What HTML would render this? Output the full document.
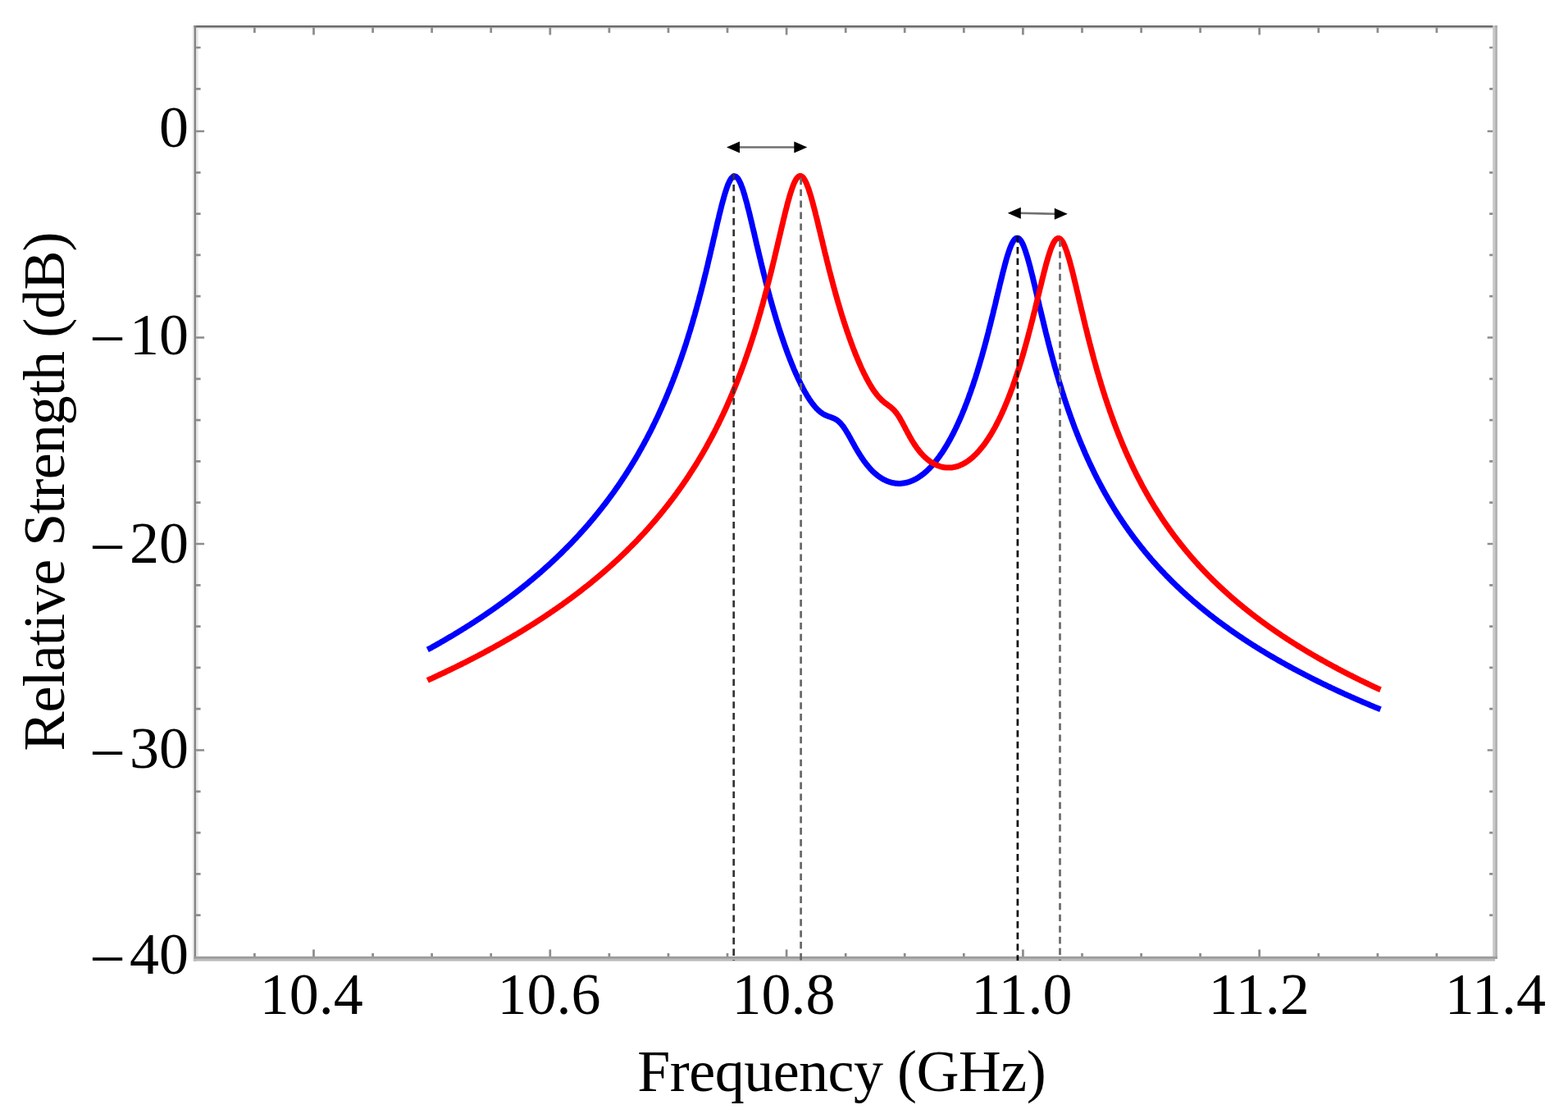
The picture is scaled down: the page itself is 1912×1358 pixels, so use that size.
<!DOCTYPE html>
<html><head><meta charset="utf-8"><style>html,body{margin:0;padding:0;background:#fff;}svg{display:block;}</style></head>
<body>
<svg width="1912" height="1358" viewBox="0 0 1912 1358">
<rect width="1912" height="1358" fill="#fff"/>
<g shape-rendering="auto">
<rect x="234.0" y="31.0" width="2.5" height="1141" fill="#f3f3f3"/>
<rect x="239.1" y="33.6" width="2.8" height="1132.3" fill="#e9e9e9"/>
<rect x="239.1" y="33.6" width="1581.1" height="2.2" fill="#ebebeb"/>
<rect x="236.5" y="31.0" width="1589.4" height="2.6" fill="#6c6c6c"/>
<rect x="236.5" y="31.0" width="2.6" height="1140.7" fill="#868686"/>
<rect x="1820.2" y="31.0" width="2.9" height="1137.9" fill="#c8c8c8"/>
<rect x="1823.1" y="31.0" width="2.8" height="1137.9" fill="#b0b0b0"/>
<rect x="236.5" y="1165.9" width="1589.4" height="3.0" fill="#9c9c9c"/>
<rect x="236.5" y="1168.9" width="1586.6" height="2.8" fill="#bcbcbc"/>
</g>
<path d="M239.1,1115.7h5.5M1820.2,1115.7h-4 M239.1,1065.4h5.5M1820.2,1065.4h-4 M239.1,1015.1h5.5M1820.2,1015.1h-4 M239.1,964.8h5.5M1820.2,964.8h-4 M239.1,914.5h10M1820.2,914.5h-6.5 M239.1,864.2h5.5M1820.2,864.2h-4 M239.1,813.9h5.5M1820.2,813.9h-4 M239.1,763.6h5.5M1820.2,763.6h-4 M239.1,713.3h5.5M1820.2,713.3h-4 M239.1,663.0h10M1820.2,663.0h-6.5 M239.1,612.7h5.5M1820.2,612.7h-4 M239.1,562.4h5.5M1820.2,562.4h-4 M239.1,512.1h5.5M1820.2,512.1h-4 M239.1,461.8h5.5M1820.2,461.8h-4 M239.1,411.5h10M1820.2,411.5h-6.5 M239.1,361.2h5.5M1820.2,361.2h-4 M239.1,310.9h5.5M1820.2,310.9h-4 M239.1,260.6h5.5M1820.2,260.6h-4 M239.1,210.3h5.5M1820.2,210.3h-4 M239.1,160.0h10M1820.2,160.0h-6.5 M239.1,108.3h5.5M1820.2,108.3h-4 M239.1,58.0h5.5M1820.2,58.0h-4 M310.4,1165.9v-3.8M310.4,33.6v6.3 M382.5,1165.9v-8.3M382.5,33.6v8.8 M454.6,1165.9v-3.8M454.6,33.6v6.3 M526.6,1165.9v-3.8M526.6,33.6v6.3 M598.7,1165.9v-3.8M598.7,33.6v6.3 M670.8,1165.9v-8.3M670.8,33.6v8.8 M742.9,1165.9v-3.8M742.9,33.6v6.3 M815.0,1165.9v-3.8M815.0,33.6v6.3 M887.0,1165.9v-3.8M887.0,33.6v6.3 M959.1,1165.9v-8.3M959.1,33.6v8.8 M1031.2,1165.9v-3.8M1031.2,33.6v6.3 M1103.2,1165.9v-3.8M1103.2,33.6v6.3 M1175.3,1165.9v-3.8M1175.3,33.6v6.3 M1247.4,1165.9v-8.3M1247.4,33.6v8.8 M1319.5,1165.9v-3.8M1319.5,33.6v6.3 M1391.6,1165.9v-3.8M1391.6,33.6v6.3 M1463.6,1165.9v-3.8M1463.6,33.6v6.3 M1535.7,1165.9v-8.3M1535.7,33.6v8.8 M1607.8,1165.9v-3.8M1607.8,33.6v6.3 M1679.9,1165.9v-3.8M1679.9,33.6v6.3 M1751.9,1165.9v-3.8M1751.9,33.6v6.3" fill="none" stroke="#8c8c8c" stroke-width="2.7"/>
<polyline points="524.4,790.3 525.4,789.8 526.4,789.3 527.3,788.7 528.3,788.2 529.3,787.6 530.2,787.1 531.2,786.6 532.1,786.0 533.1,785.5 534.1,784.9 535.0,784.4 536.0,783.8 537.0,783.3 537.9,782.7 538.9,782.2 539.9,781.6 540.8,781.1 541.8,780.5 542.8,779.9 543.7,779.4 544.7,778.8 545.6,778.2 546.6,777.7 547.6,777.1 548.5,776.5 549.5,776.0 550.5,775.4 551.4,774.8 552.4,774.3 553.4,773.7 554.3,773.1 555.3,772.5 556.2,771.9 557.2,771.3 558.2,770.8 559.1,770.2 560.1,769.6 561.1,769.0 562.0,768.4 563.0,767.8 564.0,767.2 564.9,766.6 565.9,766.0 566.9,765.4 567.8,764.8 568.8,764.2 569.7,763.6 570.7,763.0 571.7,762.4 572.6,761.8 573.6,761.2 574.6,760.5 575.5,759.9 576.5,759.3 577.5,758.7 578.4,758.1 579.4,757.4 580.3,756.8 581.3,756.2 582.3,755.5 583.2,754.9 584.2,754.3 585.2,753.6 586.1,753.0 587.1,752.4 588.1,751.7 589.0,751.1 590.0,750.4 590.9,749.8 591.9,749.1 592.9,748.5 593.8,747.8 594.8,747.1 595.8,746.5 596.7,745.8 597.7,745.2 598.7,744.5 599.6,743.8 600.6,743.2 601.6,742.5 602.5,741.8 603.5,741.1 604.4,740.4 605.4,739.8 606.4,739.1 607.3,738.4 608.3,737.7 609.3,737.0 610.2,736.3 611.2,735.6 612.2,734.9 613.1,734.2 614.1,733.5 615.0,732.8 616.0,732.1 617.0,731.4 617.9,730.7 618.9,730.0 619.9,729.2 620.8,728.5 621.8,727.8 622.8,727.1 623.7,726.3 624.7,725.6 625.7,724.9 626.6,724.1 627.6,723.4 628.5,722.7 629.5,721.9 630.5,721.2 631.4,720.4 632.4,719.7 633.4,718.9 634.3,718.1 635.3,717.4 636.3,716.6 637.2,715.9 638.2,715.1 639.1,714.3 640.1,713.5 641.1,712.8 642.0,712.0 643.0,711.2 644.0,710.4 644.9,709.6 645.9,708.8 646.9,708.0 647.8,707.2 648.8,706.4 649.7,705.6 650.7,704.8 651.7,704.0 652.6,703.2 653.6,702.3 654.6,701.5 655.5,700.7 656.5,699.9 657.5,699.0 658.4,698.2 659.4,697.4 660.4,696.5 661.3,695.7 662.3,694.8 663.2,694.0 664.2,693.1 665.2,692.2 666.1,691.4 667.1,690.5 668.1,689.6 669.0,688.8 670.0,687.9 671.0,687.0 671.9,686.1 672.9,685.2 673.8,684.3 674.8,683.4 675.8,682.5 676.7,681.6 677.7,680.7 678.7,679.8 679.6,678.9 680.6,677.9 681.6,677.0 682.5,676.1 683.5,675.2 684.5,674.2 685.4,673.3 686.4,672.3 687.3,671.4 688.3,670.4 689.3,669.4 690.2,668.5 691.2,667.5 692.2,666.5 693.1,665.5 694.1,664.6 695.1,663.6 696.0,662.6 697.0,661.6 697.9,660.6 698.9,659.6 699.9,658.5 700.8,657.5 701.8,656.5 702.8,655.5 703.7,654.4 704.7,653.4 705.7,652.4 706.6,651.3 707.6,650.2 708.5,649.2 709.5,648.1 710.5,647.0 711.4,646.0 712.4,644.9 713.4,643.8 714.3,642.7 715.3,641.6 716.3,640.5 717.2,639.4 718.2,638.3 719.2,637.1 720.1,636.0 721.1,634.9 722.0,633.7 723.0,632.6 724.0,631.4 724.9,630.3 725.9,629.1 726.9,627.9 727.8,626.7 728.8,625.5 729.8,624.3 730.7,623.1 731.7,621.9 732.6,620.7 733.6,619.5 734.6,618.3 735.5,617.0 736.5,615.8 737.5,614.5 738.4,613.3 739.4,612.0 740.4,610.7 741.3,609.4 742.3,608.1 743.3,606.8 744.2,605.5 745.2,604.2 746.1,602.9 747.1,601.6 748.1,600.2 749.0,598.9 750.0,597.5 751.0,596.1 751.9,594.8 752.9,593.4 753.9,592.0 754.8,590.6 755.8,589.2 756.7,587.8 757.7,586.3 758.7,584.9 759.6,583.4 760.6,582.0 761.6,580.5 762.5,579.0 763.5,577.5 764.5,576.0 765.4,574.5 766.4,573.0 767.3,571.4 768.3,569.9 769.3,568.3 770.2,566.8 771.2,565.2 772.2,563.6 773.1,562.0 774.1,560.4 775.1,558.8 776.0,557.1 777.0,555.5 778.0,553.8 778.9,552.1 779.9,550.4 780.8,548.7 781.8,547.0 782.8,545.3 783.7,543.5 784.7,541.8 785.7,540.0 786.6,538.2 787.6,536.4 788.6,534.6 789.5,532.8 790.5,530.9 791.4,529.0 792.4,527.2 793.4,525.3 794.3,523.4 795.3,521.4 796.3,519.5 797.2,517.5 798.2,515.5 799.2,513.5 800.1,511.5 801.1,509.5 802.1,507.4 803.0,505.4 804.0,503.3 804.9,501.2 805.9,499.0 806.9,496.9 807.8,494.7 808.8,492.5 809.8,490.3 810.7,488.1 811.7,485.8 812.7,483.5 813.6,481.2 814.6,478.9 815.5,476.6 816.5,474.2 817.5,471.8 818.4,469.4 819.4,466.9 820.4,464.5 821.3,462.0 822.3,459.4 823.3,456.9 824.2,454.3 825.2,451.7 826.1,449.1 827.1,446.4 828.1,443.7 829.0,441.0 830.0,438.2 831.0,435.5 831.9,432.6 832.9,429.8 833.9,426.9 834.8,424.0 835.8,421.1 836.8,418.1 837.7,415.1 838.7,412.0 839.6,408.9 840.6,405.8 841.6,402.7 842.5,399.5 843.5,396.2 844.5,393.0 845.4,389.6 846.4,386.3 847.4,382.9 848.3,379.5 849.3,376.0 850.2,372.5 851.2,369.0 852.2,365.4 853.1,361.7 854.1,358.1 855.1,354.4 856.0,350.6 857.0,346.8 858.0,343.0 858.9,339.1 859.9,335.2 860.9,331.3 861.8,327.3 862.8,323.3 863.7,319.3 864.7,315.2 865.7,311.1 866.6,307.0 867.6,302.8 868.6,298.7 869.5,294.5 870.5,290.3 871.5,286.2 872.4,282.0 873.4,277.9 874.3,273.7 875.3,269.6 876.3,265.6 877.2,261.6 878.2,257.6 879.2,253.7 880.1,249.9 881.1,246.3 882.1,242.7 883.0,239.3 884.0,236.0 885.0,232.9 885.9,230.0 886.9,227.3 887.8,224.8 888.8,222.6 889.8,220.6 890.7,218.9 891.7,217.4 892.7,216.3 893.6,215.5 894.6,215.0 895.6,214.8 896.5,214.9 897.5,215.3 898.4,216.1 899.4,217.1 900.4,218.5 901.3,220.1 902.3,222.1 903.3,224.2 904.2,226.7 905.2,229.3 906.2,232.1 907.1,235.2 908.1,238.4 909.0,241.8 910.0,245.3 911.0,248.9 911.9,252.6 912.9,256.5 913.9,260.4 914.8,264.3 915.8,268.3 916.8,272.4 917.7,276.5 918.7,280.6 919.7,284.7 920.6,288.8 921.6,293.0 922.5,297.1 923.5,301.2 924.5,305.3 925.4,309.3 926.4,313.4 927.4,317.4 928.3,321.4 929.3,325.3 930.3,329.3 931.2,333.1 932.2,337.0 933.1,340.8 934.1,344.5 935.1,348.3 936.0,351.9 937.0,355.6 938.0,359.2 938.9,362.7 939.9,366.2 940.9,369.7 941.8,373.1 942.8,376.4 943.8,379.8 944.7,383.0 945.7,386.3 946.6,389.5 947.6,392.6 948.6,395.7 949.5,398.8 950.5,401.8 951.5,404.8 952.4,407.7 953.4,410.6 954.4,413.5 955.3,416.3 956.3,419.1 957.2,421.8 958.2,424.5 959.2,427.2 960.1,429.8 961.1,432.4 962.1,434.9 963.0,437.4 964.0,439.9 965.0,442.3 965.9,444.7 966.9,447.0 967.8,449.3 968.8,451.6 969.8,453.8 970.7,456.0 971.7,458.1 972.7,460.2 973.6,462.3 974.6,464.3 975.6,466.3 976.5,468.3 977.5,470.2 978.5,472.1 979.4,473.9 980.4,475.7 981.3,477.4 982.3,479.1 983.3,480.8 984.2,482.4 985.2,484.0 986.2,485.5 987.1,487.0 988.1,488.4 989.1,489.8 990.0,491.1 991.0,492.4 991.9,493.6 992.9,494.8 993.9,496.0 994.8,497.0 995.8,498.1 996.8,499.0 997.7,500.0 998.7,500.8 999.7,501.7 1000.6,502.4 1001.6,503.1 1002.6,503.8 1003.5,504.4 1004.5,505.0 1005.4,505.5 1006.4,506.0 1007.4,506.4 1008.3,506.8 1009.3,507.2 1010.3,507.6 1011.2,507.9 1012.2,508.2 1013.2,508.6 1014.1,508.9 1015.1,509.3 1016.0,509.7 1017.0,510.1 1018.0,510.6 1018.9,511.1 1019.9,511.7 1020.9,512.3 1021.8,513.0 1022.8,513.9 1023.8,514.8 1024.7,515.7 1025.7,516.8 1026.6,518.0 1027.6,519.2 1028.6,520.5 1029.5,521.9 1030.5,523.4 1031.5,524.9 1032.4,526.5 1033.4,528.1 1034.4,529.7 1035.3,531.4 1036.3,533.1 1037.3,534.9 1038.2,536.6 1039.2,538.4 1040.1,540.1 1041.1,541.8 1042.1,543.6 1043.0,545.3 1044.0,547.0 1045.0,548.6 1045.9,550.2 1046.9,551.8 1047.9,553.4 1048.8,554.9 1049.8,556.4 1050.7,557.9 1051.7,559.3 1052.7,560.7 1053.6,562.1 1054.6,563.4 1055.6,564.7 1056.5,565.9 1057.5,567.1 1058.5,568.3 1059.4,569.4 1060.4,570.5 1061.4,571.6 1062.3,572.6 1063.3,573.6 1064.2,574.6 1065.2,575.5 1066.2,576.4 1067.1,577.2 1068.1,578.0 1069.1,578.8 1070.0,579.6 1071.0,580.3 1072.0,581.0 1072.9,581.7 1073.9,582.3 1074.8,582.9 1075.8,583.5 1076.8,584.1 1077.7,584.6 1078.7,585.1 1079.7,585.5 1080.6,586.0 1081.6,586.4 1082.6,586.8 1083.5,587.1 1084.5,587.5 1085.4,587.8 1086.4,588.0 1087.4,588.3 1088.3,588.5 1089.3,588.7 1090.3,588.9 1091.2,589.0 1092.2,589.2 1093.2,589.3 1094.1,589.3 1095.1,589.4 1096.1,589.4 1097.0,589.4 1098.0,589.4 1098.9,589.3 1099.9,589.2 1100.9,589.1 1101.8,589.0 1102.8,588.8 1103.8,588.7 1104.7,588.5 1105.7,588.2 1106.7,588.0 1107.6,587.7 1108.6,587.4 1109.5,587.1 1110.5,586.7 1111.5,586.3 1112.4,585.9 1113.4,585.5 1114.4,585.1 1115.3,584.6 1116.3,584.1 1117.3,583.6 1118.2,583.0 1119.2,582.4 1120.2,581.8 1121.1,581.2 1122.1,580.5 1123.0,579.9 1124.0,579.1 1125.0,578.4 1125.9,577.7 1126.9,576.9 1127.9,576.1 1128.8,575.2 1129.8,574.4 1130.8,573.5 1131.7,572.5 1132.7,571.6 1133.6,570.6 1134.6,569.6 1135.6,568.6 1136.5,567.5 1137.5,566.5 1138.5,565.4 1139.4,564.2 1140.4,563.0 1141.4,561.9 1142.3,560.6 1143.3,559.4 1144.2,558.1 1145.2,556.8 1146.2,555.4 1147.1,554.1 1148.1,552.7 1149.1,551.2 1150.0,549.8 1151.0,548.3 1152.0,546.8 1152.9,545.2 1153.9,543.6 1154.9,542.0 1155.8,540.3 1156.8,538.7 1157.7,537.0 1158.7,535.2 1159.7,533.4 1160.6,531.6 1161.6,529.8 1162.6,527.9 1163.5,526.0 1164.5,524.0 1165.5,522.0 1166.4,520.0 1167.4,517.9 1168.3,515.9 1169.3,513.7 1170.3,511.6 1171.2,509.4 1172.2,507.1 1173.2,504.8 1174.1,502.5 1175.1,500.2 1176.1,497.8 1177.0,495.3 1178.0,492.8 1179.0,490.3 1179.9,487.8 1180.9,485.2 1181.8,482.5 1182.8,479.8 1183.8,477.1 1184.7,474.3 1185.7,471.5 1186.7,468.7 1187.6,465.7 1188.6,462.8 1189.6,459.8 1190.5,456.8 1191.5,453.7 1192.4,450.5 1193.4,447.4 1194.4,444.1 1195.3,440.9 1196.3,437.5 1197.3,434.2 1198.2,430.8 1199.2,427.3 1200.2,423.8 1201.1,420.3 1202.1,416.7 1203.1,413.0 1204.0,409.3 1205.0,405.6 1205.9,401.8 1206.9,398.0 1207.9,394.2 1208.8,390.3 1209.8,386.4 1210.8,382.5 1211.7,378.5 1212.7,374.5 1213.7,370.5 1214.6,366.4 1215.6,362.4 1216.5,358.4 1217.5,354.3 1218.5,350.3 1219.4,346.3 1220.4,342.3 1221.4,338.4 1222.3,334.5 1223.3,330.7 1224.3,326.9 1225.2,323.3 1226.2,319.7 1227.1,316.3 1228.1,313.0 1229.1,309.9 1230.0,306.9 1231.0,304.1 1232.0,301.5 1232.9,299.2 1233.9,297.1 1234.9,295.2 1235.8,293.6 1236.8,292.3 1237.8,291.3 1238.7,290.6 1239.7,290.2 1240.6,290.2 1241.6,290.4 1242.6,290.9 1243.5,291.8 1244.5,293.0 1245.5,294.4 1246.4,296.1 1247.4,298.1 1248.4,300.4 1249.3,302.9 1250.3,305.6 1251.2,308.5 1252.2,311.6 1253.2,314.8 1254.1,318.2 1255.1,321.7 1256.1,325.4 1257.0,329.1 1258.0,333.0 1259.0,336.9 1259.9,340.8 1260.9,344.8 1261.9,348.9 1262.8,353.0 1263.8,357.1 1264.7,361.2 1265.7,365.3 1266.7,369.4 1267.6,373.5 1268.6,377.6 1269.6,381.7 1270.5,385.7 1271.5,389.7 1272.5,393.7 1273.4,397.7 1274.4,401.6 1275.3,405.5 1276.3,409.4 1277.3,413.2 1278.2,417.0 1279.2,420.8 1280.2,424.5 1281.1,428.1 1282.1,431.8 1283.1,435.4 1284.0,438.9 1285.0,442.4 1285.9,445.9 1286.9,449.3 1287.9,452.7 1288.8,456.0 1289.8,459.3 1290.8,462.6 1291.7,465.8 1292.7,469.0 1293.7,472.1 1294.6,475.2 1295.6,478.3 1296.6,481.3 1297.5,484.3 1298.5,487.3 1299.4,490.2 1300.4,493.1 1301.4,495.9 1302.3,498.7 1303.3,501.5 1304.3,504.3 1305.2,507.0 1306.2,509.7 1307.2,512.3 1308.1,515.0 1309.1,517.6 1310.0,520.1 1311.0,522.7 1312.0,525.2 1312.9,527.6 1313.9,530.1 1314.9,532.5 1315.8,534.9 1316.8,537.3 1317.8,539.6 1318.7,541.9 1319.7,544.2 1320.7,546.5 1321.6,548.7 1322.6,551.0 1323.5,553.2 1324.5,555.3 1325.5,557.5 1326.4,559.6 1327.4,561.7 1328.4,563.8 1329.3,565.9 1330.3,567.9 1331.3,569.9 1332.2,571.9 1333.2,573.9 1334.1,575.9 1335.1,577.8 1336.1,579.8 1337.0,581.7 1338.0,583.6 1339.0,585.4 1339.9,587.3 1340.9,589.1 1341.9,590.9 1342.8,592.7 1343.8,594.5 1344.7,596.3 1345.7,598.1 1346.7,599.8 1347.6,601.5 1348.6,603.2 1349.6,604.9 1350.5,606.6 1351.5,608.3 1352.5,609.9 1353.4,611.6 1354.4,613.2 1355.4,614.8 1356.3,616.4 1357.3,618.0 1358.2,619.5 1359.2,621.1 1360.2,622.6 1361.1,624.2 1362.1,625.7 1363.1,627.2 1364.0,628.7 1365.0,630.2 1366.0,631.6 1366.9,633.1 1367.9,634.5 1368.8,636.0 1369.8,637.4 1370.8,638.8 1371.7,640.2 1372.7,641.6 1373.7,643.0 1374.6,644.4 1375.6,645.7 1376.6,647.1 1377.5,648.4 1378.5,649.7 1379.5,651.1 1380.4,652.4 1381.4,653.7 1382.3,655.0 1383.3,656.3 1384.3,657.5 1385.2,658.8 1386.2,660.1 1387.2,661.3 1388.1,662.6 1389.1,663.8 1390.1,665.0 1391.0,666.2 1392.0,667.4 1392.9,668.6 1393.9,669.8 1394.9,671.0 1395.8,672.2 1396.8,673.4 1397.8,674.5 1398.7,675.7 1399.7,676.8 1400.7,678.0 1401.6,679.1 1402.6,680.2 1403.5,681.4 1404.5,682.5 1405.5,683.6 1406.4,684.7 1407.4,685.8 1408.4,686.8 1409.3,687.9 1410.3,689.0 1411.3,690.1 1412.2,691.1 1413.2,692.2 1414.2,693.2 1415.1,694.3 1416.1,695.3 1417.0,696.3 1418.0,697.3 1419.0,698.3 1419.9,699.4 1420.9,700.4 1421.9,701.4 1422.8,702.4 1423.8,703.3 1424.8,704.3 1425.7,705.3 1426.7,706.3 1427.6,707.2 1428.6,708.2 1429.6,709.2 1430.5,710.1 1431.5,711.0 1432.5,712.0 1433.4,712.9 1434.4,713.9 1435.4,714.8 1436.3,715.7 1437.3,716.6 1438.3,717.5 1439.2,718.4 1440.2,719.3 1441.1,720.2 1442.1,721.1 1443.1,722.0 1444.0,722.9 1445.0,723.8 1446.0,724.6 1446.9,725.5 1447.9,726.4 1448.9,727.2 1449.8,728.1 1450.8,728.9 1451.7,729.8 1452.7,730.6 1453.7,731.5 1454.6,732.3 1455.6,733.2 1456.6,734.0 1457.5,734.8 1458.5,735.6 1459.5,736.4 1460.4,737.3 1461.4,738.1 1462.3,738.9 1463.3,739.7 1464.3,740.5 1465.2,741.3 1466.2,742.1 1467.2,742.8 1468.1,743.6 1469.1,744.4 1470.1,745.2 1471.0,746.0 1472.0,746.7 1473.0,747.5 1473.9,748.3 1474.9,749.0 1475.8,749.8 1476.8,750.5 1477.8,751.3 1478.7,752.0 1479.7,752.8 1480.7,753.5 1481.6,754.2 1482.6,755.0 1483.6,755.7 1484.5,756.4 1485.5,757.2 1486.4,757.9 1487.4,758.6 1488.4,759.3 1489.3,760.0 1490.3,760.7 1491.3,761.4 1492.2,762.1 1493.2,762.9 1494.2,763.5 1495.1,764.2 1496.1,764.9 1497.1,765.6 1498.0,766.3 1499.0,767.0 1499.9,767.7 1500.9,768.4 1501.9,769.0 1502.8,769.7 1503.8,770.4 1504.8,771.1 1505.7,771.7 1506.7,772.4 1507.7,773.0 1508.6,773.7 1509.6,774.4 1510.5,775.0 1511.5,775.7 1512.5,776.3 1513.4,777.0 1514.4,777.6 1515.4,778.2 1516.3,778.9 1517.3,779.5 1518.3,780.2 1519.2,780.8 1520.2,781.4 1521.2,782.1 1522.1,782.7 1523.1,783.3 1524.0,783.9 1525.0,784.5 1526.0,785.2 1526.9,785.8 1527.9,786.4 1528.9,787.0 1529.8,787.6 1530.8,788.2 1531.8,788.8 1532.7,789.4 1533.7,790.0 1534.6,790.6 1535.6,791.2 1536.6,791.8 1537.5,792.4 1538.5,793.0 1539.5,793.6 1540.4,794.2 1541.4,794.7 1542.4,795.3 1543.3,795.9 1544.3,796.5 1545.2,797.1 1546.2,797.6 1547.2,798.2 1548.1,798.8 1549.1,799.3 1550.1,799.9 1551.0,800.5 1552.0,801.0 1553.0,801.6 1553.9,802.2 1554.9,802.7 1555.9,803.3 1556.8,803.8 1557.8,804.4 1558.7,804.9 1559.7,805.5 1560.7,806.0 1561.6,806.6 1562.6,807.1 1563.6,807.7 1564.5,808.2 1565.5,808.7 1566.5,809.3 1567.4,809.8 1568.4,810.4 1569.3,810.9 1570.3,811.4 1571.3,811.9 1572.2,812.5 1573.2,813.0 1574.2,813.5 1575.1,814.0 1576.1,814.6 1577.1,815.1 1578.0,815.6 1579.0,816.1 1580.0,816.6 1580.9,817.2 1581.9,817.7 1582.8,818.2 1583.8,818.7 1584.8,819.2 1585.7,819.7 1586.7,820.2 1587.7,820.7 1588.6,821.2 1589.6,821.7 1590.6,822.2 1591.5,822.7 1592.5,823.2 1593.4,823.7 1594.4,824.2 1595.4,824.7 1596.3,825.2 1597.3,825.7 1598.3,826.2 1599.2,826.6 1600.2,827.1 1601.2,827.6 1602.1,828.1 1603.1,828.6 1604.0,829.1 1605.0,829.5 1606.0,830.0 1606.9,830.5 1607.9,831.0 1608.9,831.4 1609.8,831.9 1610.8,832.4 1611.8,832.9 1612.7,833.3 1613.7,833.8 1614.7,834.3 1615.6,834.7 1616.6,835.2 1617.5,835.7 1618.5,836.1 1619.5,836.6 1620.4,837.0 1621.4,837.5 1622.4,838.0 1623.3,838.4 1624.3,838.9 1625.3,839.3 1626.2,839.8 1627.2,840.2 1628.1,840.7 1629.1,841.1 1630.1,841.6 1631.0,842.0 1632.0,842.5 1633.0,842.9 1633.9,843.4 1634.9,843.8 1635.9,844.2 1636.8,844.7 1637.8,845.1 1638.8,845.6 1639.7,846.0 1640.7,846.4 1641.6,846.9 1642.6,847.3 1643.6,847.7 1644.5,848.2 1645.5,848.6 1646.5,849.0 1647.4,849.5 1648.4,849.9 1649.4,850.3 1650.3,850.7 1651.3,851.2 1652.2,851.6 1653.2,852.0 1654.2,852.4 1655.1,852.8 1656.1,853.3 1657.1,853.7 1658.0,854.1 1659.0,854.5 1660.0,854.9 1660.9,855.4 1661.9,855.8 1662.8,856.2 1663.8,856.6 1664.8,857.0 1665.7,857.4 1666.7,857.8 1667.7,858.2 1668.6,858.6 1669.6,859.0 1670.6,859.5 1671.5,859.9 1672.5,860.3 1673.5,860.7 1674.4,861.1 1675.4,861.5 1676.3,861.9 1677.3,862.3 1678.3,862.7 1679.2,863.1 1680.2,863.5" fill="none" stroke="#0000ff" stroke-width="7" stroke-linejoin="round" stroke-linecap="square"/>
<polyline points="524.4,827.9 525.4,827.4 526.4,827.0 527.3,826.6 528.3,826.1 529.3,825.7 530.2,825.2 531.2,824.8 532.1,824.3 533.1,823.9 534.1,823.4 535.0,823.0 536.0,822.5 537.0,822.1 537.9,821.6 538.9,821.2 539.9,820.7 540.8,820.3 541.8,819.8 542.8,819.4 543.7,818.9 544.7,818.4 545.6,818.0 546.6,817.5 547.6,817.1 548.5,816.6 549.5,816.1 550.5,815.7 551.4,815.2 552.4,814.7 553.4,814.3 554.3,813.8 555.3,813.3 556.2,812.8 557.2,812.4 558.2,811.9 559.1,811.4 560.1,810.9 561.1,810.5 562.0,810.0 563.0,809.5 564.0,809.0 564.9,808.5 565.9,808.1 566.9,807.6 567.8,807.1 568.8,806.6 569.7,806.1 570.7,805.6 571.7,805.1 572.6,804.6 573.6,804.1 574.6,803.7 575.5,803.2 576.5,802.7 577.5,802.2 578.4,801.7 579.4,801.2 580.3,800.7 581.3,800.2 582.3,799.7 583.2,799.2 584.2,798.6 585.2,798.1 586.1,797.6 587.1,797.1 588.1,796.6 589.0,796.1 590.0,795.6 590.9,795.1 591.9,794.5 592.9,794.0 593.8,793.5 594.8,793.0 595.8,792.5 596.7,791.9 597.7,791.4 598.7,790.9 599.6,790.4 600.6,789.8 601.6,789.3 602.5,788.8 603.5,788.2 604.4,787.7 605.4,787.2 606.4,786.6 607.3,786.1 608.3,785.6 609.3,785.0 610.2,784.5 611.2,783.9 612.2,783.4 613.1,782.8 614.1,782.3 615.0,781.7 616.0,781.2 617.0,780.6 617.9,780.1 618.9,779.5 619.9,779.0 620.8,778.4 621.8,777.8 622.8,777.3 623.7,776.7 624.7,776.2 625.7,775.6 626.6,775.0 627.6,774.5 628.5,773.9 629.5,773.3 630.5,772.7 631.4,772.2 632.4,771.6 633.4,771.0 634.3,770.4 635.3,769.8 636.3,769.3 637.2,768.7 638.2,768.1 639.1,767.5 640.1,766.9 641.1,766.3 642.0,765.7 643.0,765.1 644.0,764.5 644.9,763.9 645.9,763.3 646.9,762.7 647.8,762.1 648.8,761.5 649.7,760.9 650.7,760.3 651.7,759.7 652.6,759.0 653.6,758.4 654.6,757.8 655.5,757.2 656.5,756.6 657.5,755.9 658.4,755.3 659.4,754.7 660.4,754.1 661.3,753.4 662.3,752.8 663.2,752.2 664.2,751.5 665.2,750.9 666.1,750.2 667.1,749.6 668.1,749.0 669.0,748.3 670.0,747.7 671.0,747.0 671.9,746.3 672.9,745.7 673.8,745.0 674.8,744.4 675.8,743.7 676.7,743.0 677.7,742.4 678.7,741.7 679.6,741.0 680.6,740.4 681.6,739.7 682.5,739.0 683.5,738.3 684.5,737.7 685.4,737.0 686.4,736.3 687.3,735.6 688.3,734.9 689.3,734.2 690.2,733.5 691.2,732.8 692.2,732.1 693.1,731.4 694.1,730.7 695.1,730.0 696.0,729.3 697.0,728.6 697.9,727.9 698.9,727.1 699.9,726.4 700.8,725.7 701.8,725.0 702.8,724.2 703.7,723.5 704.7,722.8 705.7,722.0 706.6,721.3 707.6,720.6 708.5,719.8 709.5,719.1 710.5,718.3 711.4,717.6 712.4,716.8 713.4,716.0 714.3,715.3 715.3,714.5 716.3,713.8 717.2,713.0 718.2,712.2 719.2,711.4 720.1,710.7 721.1,709.9 722.0,709.1 723.0,708.3 724.0,707.5 724.9,706.7 725.9,705.9 726.9,705.1 727.8,704.3 728.8,703.5 729.8,702.7 730.7,701.9 731.7,701.1 732.6,700.3 733.6,699.4 734.6,698.6 735.5,697.8 736.5,696.9 737.5,696.1 738.4,695.3 739.4,694.4 740.4,693.6 741.3,692.7 742.3,691.9 743.3,691.0 744.2,690.2 745.2,689.3 746.1,688.4 747.1,687.6 748.1,686.7 749.0,685.8 750.0,684.9 751.0,684.0 751.9,683.2 752.9,682.3 753.9,681.4 754.8,680.5 755.8,679.6 756.7,678.6 757.7,677.7 758.7,676.8 759.6,675.9 760.6,675.0 761.6,674.0 762.5,673.1 763.5,672.2 764.5,671.2 765.4,670.3 766.4,669.3 767.3,668.4 768.3,667.4 769.3,666.4 770.2,665.5 771.2,664.5 772.2,663.5 773.1,662.5 774.1,661.6 775.1,660.6 776.0,659.6 777.0,658.6 778.0,657.6 778.9,656.5 779.9,655.5 780.8,654.5 781.8,653.5 782.8,652.4 783.7,651.4 784.7,650.4 785.7,649.3 786.6,648.3 787.6,647.2 788.6,646.1 789.5,645.1 790.5,644.0 791.4,642.9 792.4,641.8 793.4,640.7 794.3,639.6 795.3,638.5 796.3,637.4 797.2,636.3 798.2,635.2 799.2,634.1 800.1,632.9 801.1,631.8 802.1,630.6 803.0,629.5 804.0,628.3 804.9,627.2 805.9,626.0 806.9,624.8 807.8,623.6 808.8,622.4 809.8,621.2 810.7,620.0 811.7,618.8 812.7,617.6 813.6,616.4 814.6,615.1 815.5,613.9 816.5,612.7 817.5,611.4 818.4,610.1 819.4,608.9 820.4,607.6 821.3,606.3 822.3,605.0 823.3,603.7 824.2,602.4 825.2,601.1 826.1,599.8 827.1,598.4 828.1,597.1 829.0,595.7 830.0,594.4 831.0,593.0 831.9,591.6 832.9,590.2 833.9,588.8 834.8,587.4 835.8,586.0 836.8,584.6 837.7,583.2 838.7,581.7 839.6,580.3 840.6,578.8 841.6,577.3 842.5,575.8 843.5,574.3 844.5,572.8 845.4,571.3 846.4,569.8 847.4,568.3 848.3,566.7 849.3,565.2 850.2,563.6 851.2,562.0 852.2,560.4 853.1,558.8 854.1,557.2 855.1,555.6 856.0,553.9 857.0,552.3 858.0,550.6 858.9,548.9 859.9,547.2 860.9,545.5 861.8,543.8 862.8,542.1 863.7,540.3 864.7,538.6 865.7,536.8 866.6,535.0 867.6,533.2 868.6,531.4 869.5,529.5 870.5,527.7 871.5,525.8 872.4,523.9 873.4,522.1 874.3,520.1 875.3,518.2 876.3,516.3 877.2,514.3 878.2,512.3 879.2,510.3 880.1,508.3 881.1,506.3 882.1,504.2 883.0,502.1 884.0,500.1 885.0,498.0 885.9,495.8 886.9,493.7 887.8,491.5 888.8,489.3 889.8,487.1 890.7,484.9 891.7,482.6 892.7,480.3 893.6,478.0 894.6,475.7 895.6,473.4 896.5,471.0 897.5,468.6 898.4,466.2 899.4,463.8 900.4,461.3 901.3,458.8 902.3,456.3 903.3,453.7 904.2,451.2 905.2,448.6 906.2,445.9 907.1,443.3 908.1,440.6 909.0,437.9 910.0,435.1 911.0,432.3 911.9,429.5 912.9,426.7 913.9,423.8 914.8,420.9 915.8,418.0 916.8,415.0 917.7,412.0 918.7,409.0 919.7,405.9 920.6,402.8 921.6,399.7 922.5,396.5 923.5,393.3 924.5,390.0 925.4,386.7 926.4,383.4 927.4,380.0 928.3,376.6 929.3,373.2 930.3,369.7 931.2,366.2 932.2,362.6 933.1,359.0 934.1,355.4 935.1,351.7 936.0,348.0 937.0,344.2 938.0,340.4 938.9,336.6 939.9,332.8 940.9,328.9 941.8,324.9 942.8,321.0 943.8,317.0 944.7,313.0 945.7,308.9 946.6,304.9 947.6,300.8 948.6,296.7 949.5,292.6 950.5,288.5 951.5,284.4 952.4,280.3 953.4,276.2 954.4,272.2 955.3,268.1 956.3,264.2 957.2,260.2 958.2,256.4 959.2,252.6 960.1,248.9 961.1,245.3 962.1,241.8 963.0,238.5 964.0,235.3 965.0,232.3 965.9,229.5 966.9,226.8 967.8,224.4 968.8,222.2 969.8,220.3 970.7,218.6 971.7,217.2 972.7,216.1 973.6,215.3 974.6,214.7 975.6,214.5 976.5,214.6 977.5,215.0 978.5,215.7 979.4,216.7 980.4,218.0 981.3,219.5 982.3,221.3 983.3,223.4 984.2,225.7 985.2,228.2 986.2,231.0 987.1,233.9 988.1,237.0 989.1,240.2 990.0,243.6 991.0,247.1 991.9,250.7 992.9,254.4 993.9,258.1 994.8,262.0 995.8,265.9 996.8,269.8 997.7,273.8 998.7,277.8 999.7,281.8 1000.6,285.8 1001.6,289.8 1002.6,293.8 1003.5,297.8 1004.5,301.8 1005.4,305.8 1006.4,309.8 1007.4,313.7 1008.3,317.6 1009.3,321.4 1010.3,325.3 1011.2,329.1 1012.2,332.8 1013.2,336.6 1014.1,340.2 1015.1,343.9 1016.0,347.5 1017.0,351.0 1018.0,354.6 1018.9,358.0 1019.9,361.5 1020.9,364.9 1021.8,368.2 1022.8,371.5 1023.8,374.8 1024.7,378.0 1025.7,381.2 1026.6,384.3 1027.6,387.4 1028.6,390.4 1029.5,393.4 1030.5,396.4 1031.5,399.3 1032.4,402.2 1033.4,405.0 1034.4,407.8 1035.3,410.6 1036.3,413.3 1037.3,416.0 1038.2,418.6 1039.2,421.2 1040.1,423.8 1041.1,426.3 1042.1,428.7 1043.0,431.2 1044.0,433.6 1045.0,435.9 1045.9,438.2 1046.9,440.5 1047.9,442.7 1048.8,444.9 1049.8,447.1 1050.7,449.2 1051.7,451.2 1052.7,453.3 1053.6,455.3 1054.6,457.2 1055.6,459.1 1056.5,461.0 1057.5,462.8 1058.5,464.6 1059.4,466.3 1060.4,468.0 1061.4,469.6 1062.3,471.2 1063.3,472.7 1064.2,474.2 1065.2,475.7 1066.2,477.1 1067.1,478.4 1068.1,479.7 1069.1,481.0 1070.0,482.1 1071.0,483.3 1072.0,484.4 1072.9,485.4 1073.9,486.4 1074.8,487.4 1075.8,488.3 1076.8,489.1 1077.7,490.0 1078.7,490.7 1079.7,491.5 1080.6,492.2 1081.6,492.9 1082.6,493.6 1083.5,494.4 1084.5,495.1 1085.4,495.8 1086.4,496.6 1087.4,497.4 1088.3,498.3 1089.3,499.2 1090.3,500.2 1091.2,501.2 1092.2,502.4 1093.2,503.6 1094.1,505.0 1095.1,506.4 1096.1,507.9 1097.0,509.4 1098.0,511.1 1098.9,512.8 1099.9,514.5 1100.9,516.3 1101.8,518.1 1102.8,519.9 1103.8,521.8 1104.7,523.6 1105.7,525.4 1106.7,527.3 1107.6,529.1 1108.6,530.8 1109.5,532.6 1110.5,534.2 1111.5,535.9 1112.4,537.5 1113.4,539.1 1114.4,540.6 1115.3,542.1 1116.3,543.5 1117.3,544.9 1118.2,546.3 1119.2,547.6 1120.2,548.8 1121.1,550.1 1122.1,551.2 1123.0,552.3 1124.0,553.4 1125.0,554.5 1125.9,555.5 1126.9,556.4 1127.9,557.4 1128.8,558.3 1129.8,559.1 1130.8,559.9 1131.7,560.7 1132.7,561.4 1133.6,562.2 1134.6,562.8 1135.6,563.5 1136.5,564.1 1137.5,564.7 1138.5,565.2 1139.4,565.7 1140.4,566.2 1141.4,566.7 1142.3,567.1 1143.3,567.5 1144.2,567.9 1145.2,568.2 1146.2,568.5 1147.1,568.8 1148.1,569.1 1149.1,569.3 1150.0,569.5 1151.0,569.7 1152.0,569.8 1152.9,569.9 1153.9,570.0 1154.9,570.1 1155.8,570.1 1156.8,570.1 1157.7,570.1 1158.7,570.1 1159.7,570.0 1160.6,569.9 1161.6,569.8 1162.6,569.6 1163.5,569.4 1164.5,569.2 1165.5,569.0 1166.4,568.7 1167.4,568.5 1168.3,568.1 1169.3,567.8 1170.3,567.4 1171.2,567.0 1172.2,566.6 1173.2,566.1 1174.1,565.7 1175.1,565.2 1176.1,564.6 1177.0,564.1 1178.0,563.5 1179.0,562.8 1179.9,562.2 1180.9,561.5 1181.8,560.8 1182.8,560.1 1183.8,559.3 1184.7,558.5 1185.7,557.7 1186.7,556.8 1187.6,555.9 1188.6,555.0 1189.6,554.1 1190.5,553.1 1191.5,552.1 1192.4,551.1 1193.4,550.0 1194.4,548.9 1195.3,547.8 1196.3,546.6 1197.3,545.4 1198.2,544.2 1199.2,543.0 1200.2,541.7 1201.1,540.4 1202.1,539.0 1203.1,537.6 1204.0,536.2 1205.0,534.7 1205.9,533.3 1206.9,531.7 1207.9,530.2 1208.8,528.6 1209.8,527.0 1210.8,525.3 1211.7,523.6 1212.7,521.9 1213.7,520.1 1214.6,518.3 1215.6,516.5 1216.5,514.6 1217.5,512.7 1218.5,510.7 1219.4,508.7 1220.4,506.7 1221.4,504.6 1222.3,502.5 1223.3,500.3 1224.3,498.2 1225.2,495.9 1226.2,493.6 1227.1,491.3 1228.1,489.0 1229.1,486.6 1230.0,484.1 1231.0,481.6 1232.0,479.1 1232.9,476.5 1233.9,473.9 1234.9,471.2 1235.8,468.5 1236.8,465.8 1237.8,463.0 1238.7,460.1 1239.7,457.2 1240.6,454.3 1241.6,451.3 1242.6,448.3 1243.5,445.2 1244.5,442.0 1245.5,438.9 1246.4,435.6 1247.4,432.4 1248.4,429.0 1249.3,425.7 1250.3,422.2 1251.2,418.8 1252.2,415.2 1253.2,411.7 1254.1,408.1 1255.1,404.4 1256.1,400.7 1257.0,397.0 1258.0,393.2 1259.0,389.4 1259.9,385.6 1260.9,381.7 1261.9,377.8 1262.8,373.9 1263.8,369.9 1264.7,365.9 1265.7,362.0 1266.7,358.0 1267.6,354.0 1268.6,350.0 1269.6,346.1 1270.5,342.2 1271.5,338.3 1272.5,334.4 1273.4,330.7 1274.4,327.0 1275.3,323.3 1276.3,319.8 1277.3,316.4 1278.2,313.2 1279.2,310.1 1280.2,307.1 1281.1,304.3 1282.1,301.8 1283.1,299.4 1284.0,297.3 1285.0,295.5 1285.9,293.9 1286.9,292.6 1287.9,291.6 1288.8,290.9 1289.8,290.5 1290.8,290.4 1291.7,290.6 1292.7,291.1 1293.7,292.0 1294.6,293.1 1295.6,294.5 1296.6,296.3 1297.5,298.2 1298.5,300.4 1299.4,302.9 1300.4,305.6 1301.4,308.5 1302.3,311.5 1303.3,314.8 1304.3,318.1 1305.2,321.6 1306.2,325.3 1307.2,329.0 1308.1,332.8 1309.1,336.7 1310.0,340.7 1311.0,344.7 1312.0,348.7 1312.9,352.8 1313.9,356.9 1314.9,361.0 1315.8,365.1 1316.8,369.2 1317.8,373.3 1318.7,377.4 1319.7,381.4 1320.7,385.5 1321.6,389.5 1322.6,393.5 1323.5,397.5 1324.5,401.4 1325.5,405.3 1326.4,409.2 1327.4,413.0 1328.4,416.8 1329.3,420.5 1330.3,424.2 1331.3,427.9 1332.2,431.5 1333.2,435.1 1334.1,438.6 1335.1,442.1 1336.1,445.6 1337.0,449.0 1338.0,452.4 1339.0,455.7 1339.9,459.0 1340.9,462.3 1341.9,465.5 1342.8,468.7 1343.8,471.8 1344.7,474.9 1345.7,478.0 1346.7,481.0 1347.6,484.0 1348.6,487.0 1349.6,489.9 1350.5,492.7 1351.5,495.6 1352.5,498.4 1353.4,501.2 1354.4,503.9 1355.4,506.6 1356.3,509.3 1357.3,512.0 1358.2,514.6 1359.2,517.2 1360.2,519.7 1361.1,522.3 1362.1,524.8 1363.1,527.2 1364.0,529.7 1365.0,532.1 1366.0,534.5 1366.9,536.8 1367.9,539.2 1368.8,541.5 1369.8,543.8 1370.8,546.0 1371.7,548.3 1372.7,550.5 1373.7,552.7 1374.6,554.8 1375.6,557.0 1376.6,559.1 1377.5,561.2 1378.5,563.3 1379.5,565.3 1380.4,567.4 1381.4,569.4 1382.3,571.4 1383.3,573.3 1384.3,575.3 1385.2,577.2 1386.2,579.2 1387.2,581.1 1388.1,582.9 1389.1,584.8 1390.1,586.6 1391.0,588.5 1392.0,590.3 1392.9,592.1 1393.9,593.9 1394.9,595.6 1395.8,597.4 1396.8,599.1 1397.8,600.8 1398.7,602.5 1399.7,604.2 1400.7,605.9 1401.6,607.5 1402.6,609.2 1403.5,610.8 1404.5,612.4 1405.5,614.0 1406.4,615.6 1407.4,617.2 1408.4,618.7 1409.3,620.3 1410.3,621.8 1411.3,623.3 1412.2,624.8 1413.2,626.3 1414.2,627.8 1415.1,629.3 1416.1,630.7 1417.0,632.2 1418.0,633.6 1419.0,635.1 1419.9,636.5 1420.9,637.9 1421.9,639.3 1422.8,640.7 1423.8,642.0 1424.8,643.4 1425.7,644.7 1426.7,646.1 1427.6,647.4 1428.6,648.7 1429.6,650.1 1430.5,651.4 1431.5,652.7 1432.5,653.9 1433.4,655.2 1434.4,656.5 1435.4,657.7 1436.3,659.0 1437.3,660.2 1438.3,661.5 1439.2,662.7 1440.2,663.9 1441.1,665.1 1442.1,666.3 1443.1,667.5 1444.0,668.7 1445.0,669.9 1446.0,671.0 1446.9,672.2 1447.9,673.4 1448.9,674.5 1449.8,675.6 1450.8,676.8 1451.7,677.9 1452.7,679.0 1453.7,680.1 1454.6,681.2 1455.6,682.3 1456.6,683.4 1457.5,684.5 1458.5,685.6 1459.5,686.6 1460.4,687.7 1461.4,688.8 1462.3,689.8 1463.3,690.9 1464.3,691.9 1465.2,692.9 1466.2,694.0 1467.2,695.0 1468.1,696.0 1469.1,697.0 1470.1,698.0 1471.0,699.0 1472.0,700.0 1473.0,701.0 1473.9,702.0 1474.9,702.9 1475.8,703.9 1476.8,704.9 1477.8,705.8 1478.7,706.8 1479.7,707.7 1480.7,708.7 1481.6,709.6 1482.6,710.5 1483.6,711.5 1484.5,712.4 1485.5,713.3 1486.4,714.2 1487.4,715.1 1488.4,716.0 1489.3,716.9 1490.3,717.8 1491.3,718.7 1492.2,719.6 1493.2,720.5 1494.2,721.4 1495.1,722.2 1496.1,723.1 1497.1,724.0 1498.0,724.8 1499.0,725.7 1499.9,726.5 1500.9,727.4 1501.9,728.2 1502.8,729.1 1503.8,729.9 1504.8,730.7 1505.7,731.5 1506.7,732.4 1507.7,733.2 1508.6,734.0 1509.6,734.8 1510.5,735.6 1511.5,736.4 1512.5,737.2 1513.4,738.0 1514.4,738.8 1515.4,739.6 1516.3,740.4 1517.3,741.2 1518.3,741.9 1519.2,742.7 1520.2,743.5 1521.2,744.3 1522.1,745.0 1523.1,745.8 1524.0,746.5 1525.0,747.3 1526.0,748.0 1526.9,748.8 1527.9,749.5 1528.9,750.3 1529.8,751.0 1530.8,751.8 1531.8,752.5 1532.7,753.2 1533.7,753.9 1534.6,754.7 1535.6,755.4 1536.6,756.1 1537.5,756.8 1538.5,757.5 1539.5,758.2 1540.4,758.9 1541.4,759.6 1542.4,760.3 1543.3,761.0 1544.3,761.7 1545.2,762.4 1546.2,763.1 1547.2,763.8 1548.1,764.5 1549.1,765.2 1550.1,765.8 1551.0,766.5 1552.0,767.2 1553.0,767.9 1553.9,768.5 1554.9,769.2 1555.9,769.9 1556.8,770.5 1557.8,771.2 1558.7,771.8 1559.7,772.5 1560.7,773.1 1561.6,773.8 1562.6,774.4 1563.6,775.1 1564.5,775.7 1565.5,776.3 1566.5,777.0 1567.4,777.6 1568.4,778.2 1569.3,778.9 1570.3,779.5 1571.3,780.1 1572.2,780.7 1573.2,781.4 1574.2,782.0 1575.1,782.6 1576.1,783.2 1577.1,783.8 1578.0,784.4 1579.0,785.0 1580.0,785.6 1580.9,786.3 1581.9,786.9 1582.8,787.5 1583.8,788.0 1584.8,788.6 1585.7,789.2 1586.7,789.8 1587.7,790.4 1588.6,791.0 1589.6,791.6 1590.6,792.2 1591.5,792.7 1592.5,793.3 1593.4,793.9 1594.4,794.5 1595.4,795.1 1596.3,795.6 1597.3,796.2 1598.3,796.8 1599.2,797.3 1600.2,797.9 1601.2,798.5 1602.1,799.0 1603.1,799.6 1604.0,800.1 1605.0,800.7 1606.0,801.2 1606.9,801.8 1607.9,802.3 1608.9,802.9 1609.8,803.4 1610.8,804.0 1611.8,804.5 1612.7,805.1 1613.7,805.6 1614.7,806.1 1615.6,806.7 1616.6,807.2 1617.5,807.8 1618.5,808.3 1619.5,808.8 1620.4,809.3 1621.4,809.9 1622.4,810.4 1623.3,810.9 1624.3,811.4 1625.3,812.0 1626.2,812.5 1627.2,813.0 1628.1,813.5 1629.1,814.0 1630.1,814.5 1631.0,815.1 1632.0,815.6 1633.0,816.1 1633.9,816.6 1634.9,817.1 1635.9,817.6 1636.8,818.1 1637.8,818.6 1638.8,819.1 1639.7,819.6 1640.7,820.1 1641.6,820.6 1642.6,821.1 1643.6,821.6 1644.5,822.1 1645.5,822.6 1646.5,823.1 1647.4,823.5 1648.4,824.0 1649.4,824.5 1650.3,825.0 1651.3,825.5 1652.2,826.0 1653.2,826.4 1654.2,826.9 1655.1,827.4 1656.1,827.9 1657.1,828.4 1658.0,828.8 1659.0,829.3 1660.0,829.8 1660.9,830.2 1661.9,830.7 1662.8,831.2 1663.8,831.6 1664.8,832.1 1665.7,832.6 1666.7,833.0 1667.7,833.5 1668.6,834.0 1669.6,834.4 1670.6,834.9 1671.5,835.3 1672.5,835.8 1673.5,836.3 1674.4,836.7 1675.4,837.2 1676.3,837.6 1677.3,838.1 1678.3,838.5 1679.2,839.0 1680.2,839.4" fill="none" stroke="#ff0000" stroke-width="7" stroke-linejoin="round" stroke-linecap="square"/>
<g fill="none" stroke-width="2.7">
<line x1="894.7" y1="211.3" x2="894.7" y2="1171" stroke="#333" stroke-dasharray="8.3 5.4"/>
<line x1="976.6" y1="216.8" x2="976.6" y2="1171" stroke="#666" stroke-dasharray="8.4 5.5"/>
<line x1="1240.9" y1="287.4" x2="1240.9" y2="1171" stroke="#0a0a0a" stroke-dasharray="8.3 5.4"/>
<line x1="1292.5" y1="292.7" x2="1292.5" y2="1171" stroke="#6a6a6a" stroke-dasharray="8.3 5.4"/>
</g>
<line x1="900" y1="179.5" x2="970.3" y2="179.5" stroke="#707070" stroke-width="2.6"/><path d="M886,179.5 L902,172.5 L902,186.5 Z" fill="#000"/><path d="M984.3,179.5 L968.3,172.5 L968.3,186.5 Z" fill="#000"/>
<line x1="1242.8" y1="259.7" x2="1287.8" y2="260.8" stroke="#707070" stroke-width="2.6"/><path d="M1228.8,259.7 L1244.8,252.7 L1244.8,266.7 Z" fill="#000"/><path d="M1301.8,260.8 L1285.8,253.8 L1285.8,267.8 Z" fill="#000"/>
<g font-family="Liberation Serif, Times New Roman, serif" font-size="72" fill="#000">
<text x="229.9" y="179.3" text-anchor="end">0</text>
<text><tspan x="108.9" y="439.2" font-size="78">−</tspan><tspan x="229.9" y="431.5" text-anchor="end">10</tspan></text>
<text><tspan x="108.9" y="693.2" font-size="78">−</tspan><tspan x="229.9" y="685.5" text-anchor="end">20</tspan></text>
<text><tspan x="108.9" y="944.0" font-size="78">−</tspan><tspan x="229.9" y="936.3" text-anchor="end">30</tspan></text>
<text><tspan x="108.9" y="1195.0" font-size="78">−</tspan><tspan x="229.9" y="1187.3" text-anchor="end">40</tspan></text>
<text x="379.75" y="1235.8" text-anchor="middle">10.4</text>
<text x="669.40" y="1235.8" text-anchor="middle">10.6</text>
<text x="955.60" y="1235.8" text-anchor="middle">10.8</text>
<text x="1245.80" y="1235.8" text-anchor="middle">11.0</text>
<text x="1535.10" y="1235.8" text-anchor="middle">11.2</text>
<text x="1823.40" y="1235.8" text-anchor="middle">11.4</text>
<text x="777.35" y="1330" textLength="498.4" lengthAdjust="spacing">Frequency (GHz)</text>
<text transform="translate(77.5,915.6) rotate(-90)" textLength="633.2" lengthAdjust="spacing">Relative Strength (dB)</text>
</g>
</svg>
</body></html>
